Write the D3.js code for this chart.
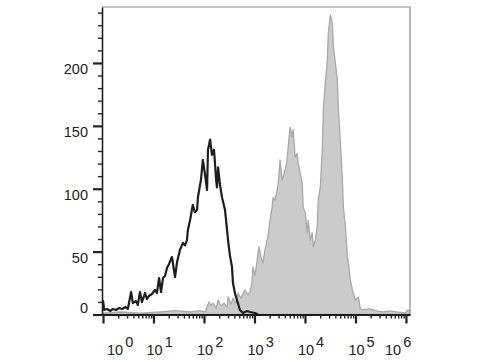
<!DOCTYPE html>
<html>
<head>
<meta charset="utf-8">
<script src="https://cdn.jsdelivr.net/npm/d3@7"></script>
<style>
body { margin: 0; background: #fff; }
text { font-family: "Liberation Sans", Arial, sans-serif; }
</style>
</head>
<body>
<svg id="chart" width="480" height="360"></svg>
<script>
/*global d3*/

// stained sample (grey filled histogram)
var stainX = [1, 2.2, 5.4, 13.5, 27, 53, 83, 105, 126, 137, 150, 174, 190, 217, 250, 286, 300, 343, 375, 430, 470, 540,
  650, 745, 815, 890, 930, 1020, 1110, 1220, 1340, 1470, 1610, 1770, 1850, 2030, 2230, 2330, 2550, 2800, 2930, 3210,
  3520, 3680, 4040, 4430, 4640, 5080, 5570, 5830, 6390, 7000, 7340, 8040, 8810, 9220, 10100, 11100, 11600, 12700,
  13900, 14600, 16000, 17500, 18300, 20100, 22000, 23100, 25300, 27700, 29000, 31800, 34800, 36500, 40000, 43800,
  45900, 50300, 55100, 57700, 63200, 69200, 72500, 79400, 87000, 99500, 114000, 124000, 140000, 193000, 264000,
  346000, 475000, 651000, 955000, 1100000, 1200000]
var stainY = [1, 2, 1, 2, 3, 2, 3, 2, 10, 7, 9, 5, 11.5, 7, 9, 6, 14, 8, 13, 9, 17, 13,
  19.5, 15.5, 18, 25, 38, 31, 41, 54, 46, 41, 51, 59, 62, 75, 85, 93, 91, 99, 103, 123,
  107, 109, 115, 123, 133, 149, 141, 147, 125, 128, 120, 112, 105, 85, 81, 65, 75, 59,
  65, 54, 59, 70, 91, 101, 131, 163, 184, 202, 224, 238, 232, 213, 200, 186,
  163, 136, 107, 85, 70, 46, 41, 27, 19.5, 11.5, 14, 5, 3.6, 4.4, 2.8,
  2, 2.8, 2, 1.2, 3.6, 2.8]

// control (black outline histogram)
var ctrlX = [1, 1.05, 1.2, 1.4, 1.58, 1.8, 2.1, 2.4, 2.8, 3.1, 3.6, 3.9, 4.5, 4.9, 5.4, 5.9, 6.8, 7.4, 8.1, 9.3,
  10.7, 11.7, 12.9, 14.1, 15.4, 16.9, 18.5, 20.3, 23.2, 26.7, 29.3, 33.4, 38.3, 42, 46, 48, 53, 60, 66, 73, 76,
  87, 95, 105, 115, 120, 132, 144, 158, 174, 181, 190, 208, 228, 261, 300, 326, 358, 375, 410, 450, 515, 590,
  710, 815, 1020, 1170]
var ctrlY = [11.5, 3.6, 4.4, 2.8, 4.4, 3.6, 5.2, 4.4, 6, 4.4, 17.9, 9.1, 10.7, 7.6, 17.9, 9.9, 17.1, 12.3, 14.7, 16.3,
  19.5, 17.1, 29, 17.9, 29, 30.6, 37, 40.2, 45.7, 29.8, 41.7, 51.3, 56.9, 55, 59.2, 67.2, 75.1, 87.1, 81.4, 83.1, 93.4,
  107, 123, 111, 99, 131, 139, 127, 131, 107, 101, 117, 103, 93, 83, 59, 47, 38, 25, 17, 11.5, 3.6, 1.2,
  2.8, 2, 1.2, 0]

var yMajor = [0, 50, 100, 150, 200]
var xDecades = [0, 1, 2, 3, 4, 5, 6]

var svg = d3.select("#chart")

var x = d3.scaleLog()
  .domain([Math.pow(10, -0.02), Math.pow(10, 6.08)])
  .range([102, 410])
var y = d3.scaleLinear()
  .domain([0, 244.5])
  .range([314.5, 7])

svg.append("clipPath").attr("id", "plot")
  .append("rect").attr("x", 102).attr("y", 7).attr("width", 308).attr("height", 307.5)

var stain = stainX.map(function(v, i) { return { x: v, y: stainY[i] }; })
var ctrl = ctrlX.map(function(v, i) { return { x: v, y: ctrlY[i] }; })

var area = d3.area()
  .x(function(d) { return x(d.x); })
  .y0(y(0))
  .y1(function(d) { return y(d.y); })
var line = d3.line()
  .x(function(d) { return x(d.x); })
  .y(function(d) { return y(d.y); })

var g = svg.append("g").attr("clip-path", "url(#plot)")

g.append("path").datum(stain)
  .attr("d", area)
  .attr("fill", "#cbcbcb")
  .attr("stroke", "#a8a8a8")
  .attr("stroke-width", 1.3)
  .attr("stroke-linejoin", "round")

g.append("path").datum(ctrl)
  .attr("d", line)
  .attr("fill", "none")
  .attr("stroke", "#1e1e1e")
  .attr("stroke-width", 2.2)
  .attr("stroke-linejoin", "round")

// frame (top / right)
svg.append("path")
  .attr("d", "M102,7H410V314.5")
  .attr("fill", "none")
  .attr("stroke", "#8a8a8a")
  .attr("stroke-width", 1.2)

// y axis
var yMinor = d3.range(0, 241, 10)
var yAxis = svg.append("g")
  .attr("transform", "translate(102,0)")
  .call(d3.axisLeft(y).tickValues(yMinor).tickSize(4).tickSizeOuter(0).tickFormat(""))
yAxis.select(".domain").attr("stroke", "#222").attr("stroke-width", 1.6)
yAxis.selectAll(".tick line")
  .attr("stroke", "#222")
  .attr("stroke-width", function(d) { return d % 50 === 0 ? 2.2 : 1.4; })
  .attr("x2", function(d) { return d % 50 === 0 ? -9 : -4; })

svg.selectAll(".ylab")
  .data(yMajor)
  .enter().append("text")
  .attr("class", "ylab")
  .attr("x", 88)
  .attr("y", function(d) { return d === 0 ? y(d) - 1.5 : y(d) + 11.5; })
  .attr("text-anchor", "end")
  .attr("font-size", 14.5)
  .attr("fill", "#222")
  .text(function(d) { return d; })

// x axis (log decades with minor ticks)
var xTicks = []
xDecades.forEach(function(p) {
  for (var m = 1; m < 10; m++) {
    var v = m * Math.pow(10, p)
    if (v <= Math.pow(10, 6.08)) xTicks.push(v)
  }
})
var xAxis = svg.append("g")
  .attr("transform", "translate(0,314.5)")
  .call(d3.axisBottom(x).tickValues(xTicks).tickSize(4).tickSizeOuter(0).tickFormat(""))
xAxis.select(".domain").attr("stroke", "#1a1a1a").attr("stroke-width", 2)
xAxis.selectAll(".tick line")
  .attr("stroke", "#222")
  .attr("stroke-width", function(d) { return isDecade(d) ? 2.2 : 1.4; })
  .attr("y2", function(d) { return isDecade(d) ? 9 : 4; })

function isDecade(v) {
  var l = Math.log10(v)
  return Math.abs(l - Math.round(l)) < 1e-9
}

var xl = svg.selectAll(".xlab")
  .data(xDecades)
  .enter().append("text")
  .attr("class", "xlab")
  .attr("x", function(d) { return Math.max(107, Math.min(385, x(Math.pow(10, d)) - 7)); })
  .attr("y", 355)
  .attr("font-size", 14.5)
  .attr("fill", "#222")
xl.append("tspan").text("10")
xl.append("tspan")
  .attr("dx", 2)
  .attr("dy", -8)
  .text(function(d) { return d; })
</script>
</body>
</html>
